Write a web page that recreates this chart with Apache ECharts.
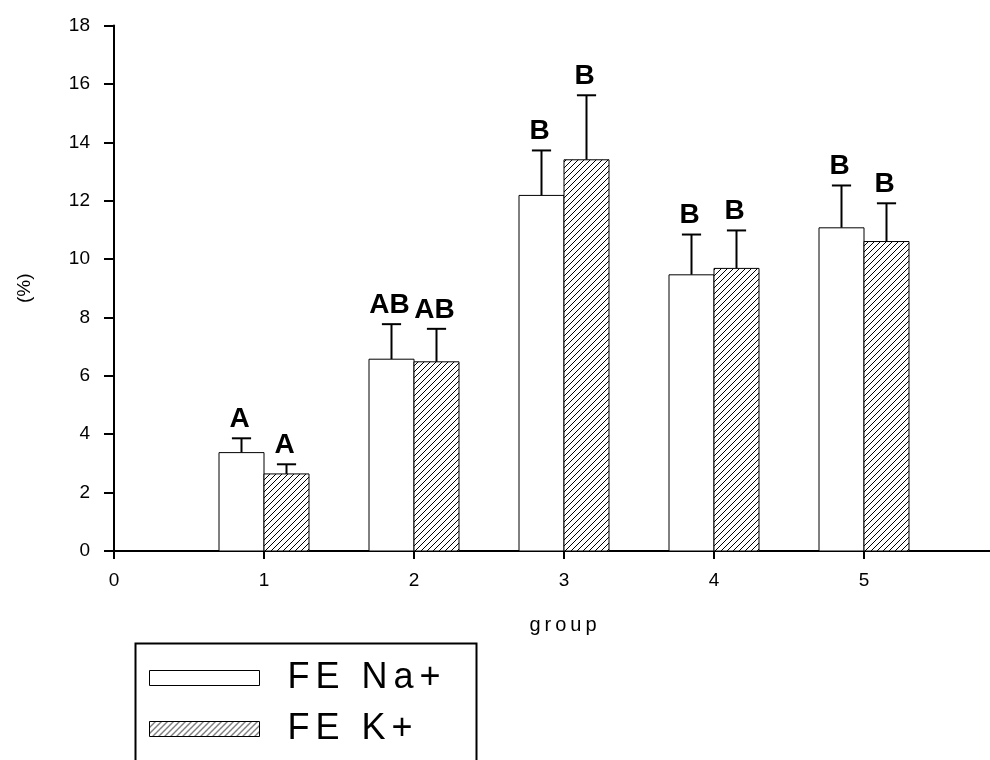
<!DOCTYPE html>
<html>
<head>
<meta charset="utf-8">
<script src="https://cdn.jsdelivr.net/npm/echarts@6/dist/echarts.min.js"></script>
<style>html,body{margin:0;padding:0;background:#fff;}#c{width:990px;height:760px;}</style>
</head>
<body>
<div id="c"></div>
<script>
// ---- data ----
const groups = [1, 2, 3, 4, 5];
const naMean = [3.37, 6.57, 12.18, 9.46, 11.07];
const naSem  = [0.49, 1.20, 1.54, 1.38, 1.45];
const naLetters = ['A', 'AB', 'B', 'B', 'B'];
const kMean = [2.64, 6.48, 13.40, 9.68, 10.60];
const kSem  = [0.33, 1.13, 2.21, 1.30, 1.31];
const kLetters = ['A', 'AB', 'B', 'B', 'B'];
const seriesNames = ['FE Na+', 'FE K+'];
const xTicks = [0, 1, 2, 3, 4, 5];
const yTicks = [0, 2, 4, 6, 8, 10, 12, 14, 16, 18];
const xTitle = 'group';
const yTitle = '(%)';

// ---- hatch pattern ----
function makeHatch() {
  const s = 6;
  const cv = document.createElement('canvas');
  cv.width = s; cv.height = s;
  const ctx = cv.getContext('2d');
  ctx.fillStyle = '#fff';
  ctx.fillRect(0, 0, s, s);
  ctx.strokeStyle = '#000';
  ctx.lineWidth = 1;
  ctx.beginPath();
  ctx.moveTo(0, s); ctx.lineTo(s, 0);
  ctx.moveTo(-1, 1); ctx.lineTo(1, -1);
  ctx.moveTo(s - 1, s + 1); ctx.lineTo(s + 1, s - 1);
  ctx.stroke();
  return cv;
}
const hatch = { image: makeHatch(), repeat: 'repeat' };
const fills = ['#ffffff', hatch];
const FONT = 'Liberation Sans, Arial, sans-serif';

function spaced(str) {
  return str.split('').map((c, i) => '{' + (i === 0 ? 'f' : 's') + '|' + c + '}').join('');
}

function buildData(means, sems) {
  return groups.map((g, i) => [g, means[i], means[i] + sems[i]]);
}

function makeRender(offset, fill, letters) {
  return function (params, api) {
    const x = api.value(0);
    const v = api.value(1);
    const e = api.value(2);
    const letter = letters[params.dataIndex];
    const half = 0.15, cap = 0.064;
    const c = x + offset;
    const p0 = api.coord([c - half, 0]);
    const p1 = api.coord([c + half, v]);
    const pv = api.coord([c, v]);
    const pe = api.coord([c, e]);
    const pl = api.coord([c - cap, e]);
    const pr = api.coord([c + cap, e]);
    return {
      type: 'group',
      children: [
        { type: 'line', shape: { x1: pv[0], y1: pv[1], x2: pe[0], y2: pe[1] }, style: { stroke: '#000', lineWidth: 2 } },
        { type: 'line', shape: { x1: pl[0], y1: pl[1], x2: pr[0], y2: pr[1] }, style: { stroke: '#000', lineWidth: 2 } },
        { type: 'rect', shape: { x: p0[0], y: p1[1], width: p1[0] - p0[0], height: p0[1] - p1[1] },
          style: { fill: fill, stroke: '#000', lineWidth: 1 } },
        { type: 'text', x: pe[0] - 2, y: pe[1] - 19,
          style: { text: letter, align: 'center', verticalAlign: 'middle',
            fontSize: 28, fontWeight: 'bold', fontFamily: FONT, fill: '#000' } }
      ]
    };
  };
}

const chart = echarts.init(document.getElementById('c'), null, { renderer: 'canvas' });
const letterRich = {
  f: { fontSize: 36, fontFamily: FONT, color: '#000', padding: [0, 3, 0, 23], lineHeight: 36 },
  s: { fontSize: 36, fontFamily: FONT, color: '#000', padding: [0, 3, 0, 3], lineHeight: 36 }
};
chart.setOption({
  animation: false,
  backgroundColor: '#fff',
  grid: { left: 114, right: 0, top: 25.5, bottom: 209, containLabel: false },
  xAxis: {
    type: 'value', min: 0, max: 5.84, interval: 1,
    name: spaced(xTitle), nameLocation: 'middle', nameGap: 64,
    nameTextStyle: {
      rich: {
        f: { fontSize: 20, fontFamily: FONT, color: '#000', padding: [0, 2, 0, 24] },
        s: { fontSize: 20, fontFamily: FONT, color: '#000', padding: [0, 2, 0, 2] }
      }
    },
    axisLine: { show: true, onZero: false, lineStyle: { color: '#000', width: 2 } },
    axisTick: { show: true, inside: false, length: 8, lineStyle: { color: '#000', width: 2 } },
    axisLabel: { color: '#000', fontSize: 19, fontFamily: FONT, margin: 20,
      showMaxLabel: false,
      formatter: function (v) { return xTicks.indexOf(v) >= 0 ? String(v) : ''; } },
    splitLine: { show: false }
  },
  yAxis: {
    type: 'value', min: yTicks[0], max: yTicks[yTicks.length - 1], interval: 2,
    name: yTitle, nameLocation: 'middle', nameGap: 80,
    nameTextStyle: { color: '#000', fontSize: 19, fontFamily: FONT },
    axisLine: { show: true, onZero: false, lineStyle: { color: '#000', width: 2 } },
    axisTick: { show: true, inside: false, length: 10, lineStyle: { color: '#000', width: 2 } },
    axisLabel: { color: '#000', fontSize: 19, fontFamily: FONT, margin: 24 },
    splitLine: { show: false }
  },
  legend: {
    orient: 'vertical', left: 149, top: 660, itemWidth: 110, itemHeight: 15, itemGap: 15,
    padding: 0, icon: 'rect', selectedMode: false,
    formatter: function (name) { return spaced(name); },
    textStyle: { rich: letterRich, color: '#000' },
    data: [
      { name: seriesNames[0], itemStyle: { color: fills[0], borderColor: '#000', borderWidth: 1 } },
      { name: seriesNames[1], itemStyle: { color: fills[1], borderColor: '#000', borderWidth: 1 } }
    ]
  },
  graphic: [
    { type: 'rect', left: 133, top: 641, shape: { width: 341, height: 140 }, style: { fill: 'none', stroke: '#000', lineWidth: 2 }, z: 10 }
  ],
  series: [
    { type: 'custom', name: seriesNames[0], renderItem: makeRender(-0.15, fills[0], naLetters),
      itemStyle: { color: fills[0], borderColor: '#000', borderWidth: 1 },
      encode: { x: 0, y: [1, 2] }, data: buildData(naMean, naSem), clip: false },
    { type: 'custom', name: seriesNames[1], renderItem: makeRender(0.15, fills[1], kLetters),
      itemStyle: { color: fills[1], borderColor: '#000', borderWidth: 1 },
      encode: { x: 0, y: [1, 2] }, data: buildData(kMean, kSem), clip: false }
  ]
});
</script>
</body>
</html>
